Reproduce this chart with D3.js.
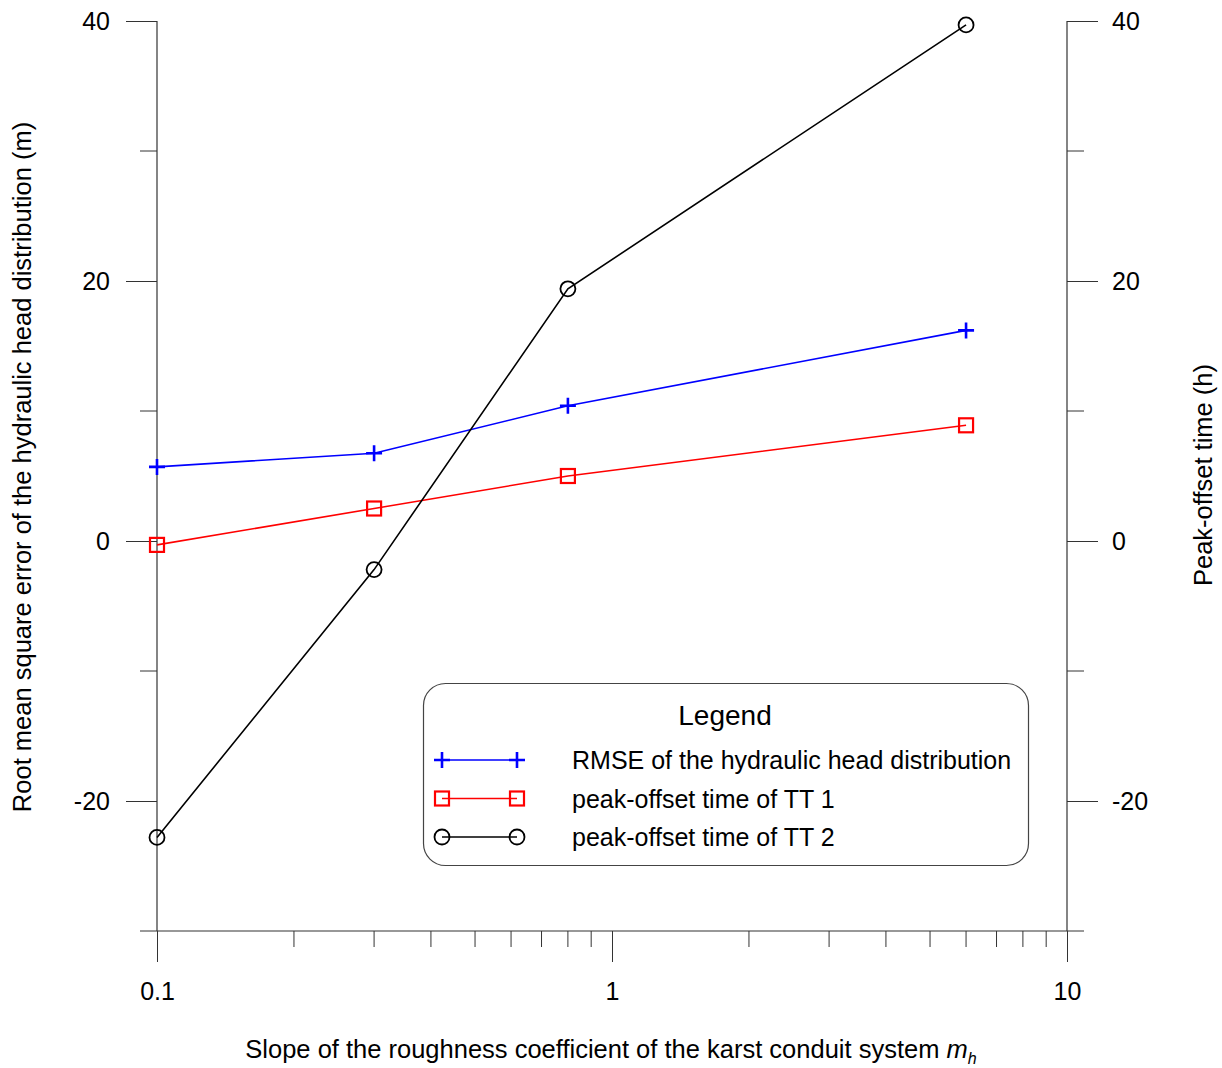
<!DOCTYPE html>
<html>
<head>
<meta charset="utf-8">
<script src="https://cdn.jsdelivr.net/npm/d3@7"></script>
<style>
body { margin: 0; background: #fff; }
text { font-family: "Liberation Sans", Arial, sans-serif; fill: #000; }
</style>
</head>
<body>
<svg id="chart" width="1222" height="1068"></svg>
<script>
// 数据
var xVals = [0.1, 0.3, 0.8, 6];
var rmse = [5.7, 6.75, 10.4, 16.2];
var tt1 = [-0.3, 2.5, 5.0, 8.9];
var tt2 = [-22.8, -2.2, 19.4, 39.7];
var yTicks = [-20, 0, 20, 40];
var yMinor = [-30, -10, 10, 30];
var xTicks = [0.1, 1, 10];
var legendNames = ["RMSE of the hydraulic head distribution", "peak-offset time of TT 1", "peak-offset time of TT 2"];

var svg = d3.select("#chart");
var left = 157, right = 1067, topY = 21, bottom = 931;

// 比例尺
var x = d3.scaleLog().domain([0.1, 10]).range([left, right]);
var y = d3.scaleLinear().domain([-30, 40]).range([bottom, topY]);

var axisColor = "#333";
var fmt = function(d) { return String(d); };

// 左轴
var gl = svg.append("g").attr("transform", "translate(" + left + ",0)");
gl.call(d3.axisLeft(y).tickValues(yTicks).tickSize(31).tickPadding(16).tickFormat(fmt));
gl.selectAll(".minor").data(yMinor).enter().append("line")
  .attr("class", "minor").attr("x1", -17).attr("x2", 0)
  .attr("y1", function(d) { return y(d); }).attr("y2", function(d) { return y(d); })
  .attr("stroke", axisColor);

// 右轴
var gr = svg.append("g").attr("transform", "translate(" + right + ",0)");
gr.call(d3.axisRight(y).tickValues(yTicks).tickSize(31).tickPadding(14).tickFormat(fmt));
gr.selectAll(".minor").data(yMinor).enter().append("line")
  .attr("class", "minor").attr("x1", 0).attr("x2", 17)
  .attr("y1", function(d) { return y(d); }).attr("y2", function(d) { return y(d); })
  .attr("stroke", axisColor);

// 底轴
var minorX = [];
[0.1, 1].forEach(function(b) { for (var k = 2; k <= 9; k++) minorX.push(b * k); });
var gb = svg.append("g").attr("transform", "translate(0," + bottom + ")");
gb.call(d3.axisBottom(x).tickValues(xTicks).tickSize(31).tickPadding(20).tickFormat(fmt));
gb.selectAll(".minor").data(minorX).enter().append("line")
  .attr("class", "minor").attr("y1", 0).attr("y2", 16)
  .attr("x1", function(d) { return x(d); }).attr("x2", function(d) { return x(d); })
  .attr("stroke", axisColor);

[gl, gr, gb].forEach(function(g) {
  g.select(".domain").attr("stroke", axisColor).attr("stroke-width", 1.2);
  g.selectAll(".tick line").attr("stroke", axisColor);
  g.selectAll("text").attr("font-size", 25).attr("font-family", "Liberation Sans, Arial, sans-serif");
});
gl.select(".domain").attr("d", "M0," + bottom + "V" + topY);
gr.select(".domain").attr("d", "M0," + bottom + "V" + topY);
gb.select(".domain").attr("d", "M" + left + ",0H" + right);

// 轴标题
svg.append("text").attr("transform", "translate(31,467) rotate(-90)")
  .attr("text-anchor", "middle").attr("font-size", 25.5)
  .text("Root mean square error of the hydraulic head distribution (m)");
svg.append("text").attr("transform", "translate(1212,475) rotate(-90)")
  .attr("text-anchor", "middle").attr("font-size", 25.5)
  .text("Peak-offset time (h)");
var xt = svg.append("text").attr("x", 611).attr("y", 1058)
  .attr("text-anchor", "middle").attr("font-size", 25.5);
xt.append("tspan").text("Slope of the roughness coefficient of the karst conduit system ");
xt.append("tspan").attr("font-style", "italic").text("m");
xt.append("tspan").attr("font-style", "italic").attr("font-size", 16).attr("dy", 6).text("h");

// 标记符号
function marker(g, type, color) {
  if (type === "plus") {
    g.append("path").attr("d", "M-8,0H8M0,-8V8").attr("stroke", color).attr("stroke-width", 2.6).attr("fill", "none");
  } else if (type === "square") {
    g.append("rect").attr("x", -7).attr("y", -7).attr("width", 14).attr("height", 14)
      .attr("stroke", color).attr("stroke-width", 2.2).attr("fill", "none");
  } else {
    g.append("circle").attr("r", 7.5).attr("stroke", color).attr("stroke-width", 1.8).attr("fill", "none");
  }
}

var series = [
  { name: legendNames[0], values: rmse, color: "#0000ff", type: "plus" },
  { name: legendNames[1], values: tt1, color: "#ff0000", type: "square" },
  { name: legendNames[2], values: tt2, color: "#000000", type: "circle" }
];

var line = d3.line().x(function(d) { return x(d[0]); }).y(function(d) { return y(d[1]); });

series.forEach(function(s) {
  var pts = xVals.map(function(v, i) { return [v, s.values[i]]; });
  svg.append("path").datum(pts).attr("d", line)
    .attr("fill", "none").attr("stroke", s.color).attr("stroke-width", 1.6);
  pts.forEach(function(p) {
    marker(svg.append("g").attr("transform", "translate(" + x(p[0]) + "," + y(p[1]) + ")"), s.type, s.color);
  });
});

// 图例
var lg = svg.append("g");
lg.append("rect").attr("x", 423.5).attr("y", 683.5).attr("width", 605).attr("height", 182)
  .attr("rx", 22).attr("fill", "#fff").attr("stroke", "#444").attr("stroke-width", 1.2);
lg.append("text").attr("x", 725).attr("y", 725).attr("text-anchor", "middle")
  .attr("font-size", 28).text("Legend");
series.forEach(function(s, i) {
  var ly = 760 + i * 38.5;
  lg.append("line").attr("x1", 442).attr("x2", 517).attr("y1", ly).attr("y2", ly)
    .attr("stroke", s.color).attr("stroke-width", 1.6);
  marker(lg.append("g").attr("transform", "translate(442," + ly + ")"), s.type, s.color);
  marker(lg.append("g").attr("transform", "translate(517," + ly + ")"), s.type, s.color);
  lg.append("text").attr("x", 572).attr("y", ly + 9).attr("font-size", 25).text(s.name);
});
</script>
</body>
</html>
